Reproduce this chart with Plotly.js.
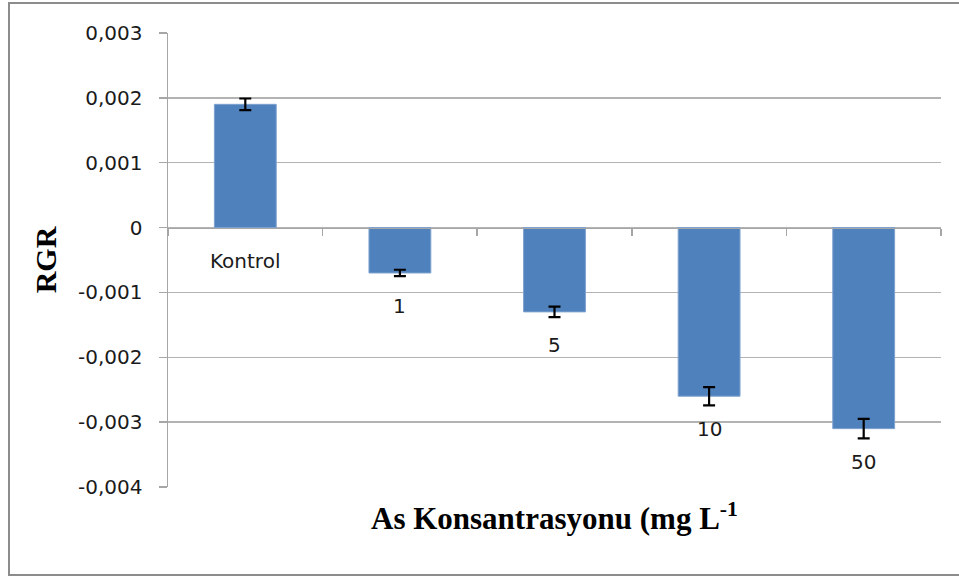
<!DOCTYPE html>
<html>
<head>
<meta charset="utf-8">
<script src="https://cdn.plot.ly/plotly-3.0.1.min.js"></script>
<style>
html,body{margin:0;padding:0;background:#fff;}
#wrap{position:relative;width:959px;height:581px;overflow:hidden;}
#chart{width:959px;height:581px;}
#frame{position:absolute;left:8px;top:2px;width:980px;height:574px;border:2px solid #8c8c8c;pointer-events:none;box-sizing:border-box;}
</style>
</head>
<body>
<div id="wrap"><div id="chart"></div><div id="frame"></div></div>
<script>
var categories = ["Kontrol", "1", "5", "10", "50"];
var rgrValues = [0.0019, -0.0007, -0.0013, -0.0026, -0.0031];
var rgrErrors = [0.00009, 0.00005, 0.00008, 0.00014, 0.00015];
var yTickVals = [0.003, 0.002, 0.001, 0, -0.001, -0.002, -0.003, -0.004];
var yTickText = ["0,003", "0,002", "0,001", "0", "-0,001", "-0,002", "-0,003", "-0,004"];

var yMin = -0.004, yMax = 0.003;
var tickFont = {family: "DejaVu Sans, Open Sans, sans-serif", size: 20, color: "#1a1a1a"};

var trace = {
  type: "bar",
  x: categories,
  y: rgrValues,
  marker: {color: "#4F81BD", line: {color: "#7EA2CF", width: 1}},
  error_y: {type: "data", array: rgrErrors, visible: true, color: "#000", thickness: 2.2, width: 6},
  hoverinfo: "skip"
};

var annotations = categories.map(function (c, i) {
  return {
    x: i, y: Math.min(rgrValues[i], 0), xref: "x", yref: "y",
    text: c, showarrow: false, yanchor: "middle", yshift: -33,
    font: tickFont
  };
});

var layout = {
  width: 959, height: 581,
  margin: {l: 168, r: 18, t: 33, b: 94, pad: 0},
  paper_bgcolor: "#fff", plot_bgcolor: "#fff",
  showlegend: false,
  bargap: 0.6,
  xaxis: {
    type: "category",
    range: [-0.5, categories.length - 0.5],
    autorange: false,
    anchor: "free",
    position: (0 - yMin) / (yMax - yMin),
    showline: true, linecolor: "#a6a6a6", linewidth: 1.5,
    ticks: "outside", tickson: "boundaries", ticklen: 7, tickcolor: "#a6a6a6", tickwidth: 1.5,
    showticklabels: false, showgrid: false, zeroline: false
  },
  yaxis: {
    range: [yMin, yMax],
    autorange: false,
    tickvals: yTickVals, ticktext: yTickText,
    tickfont: tickFont,
    ticklabelstandoff: 12,
    ticks: "outside", ticklen: 8, tickcolor: "#a6a6a6", tickwidth: 1.5,
    showline: true, linecolor: "#a6a6a6", linewidth: 1.5,
    showgrid: true, gridcolor: "#b3b3b3", gridwidth: 1.5,
    zeroline: false,
    title: {text: "<b>RGR</b>", font: {family: "Liberation Serif, Times New Roman, serif", size: 30, color: "#000"}, standoff: 12}
  },
  annotations: annotations.concat([{
    xref: "paper", yref: "paper", x: 0.5, y: 0, yanchor: "top", yshift: -8,
    text: "<b>As Konsantrasyonu (mg L<sup>-1</sup></b>", showarrow: false,
    font: {family: "Liberation Serif, Times New Roman, serif", size: 31, color: "#000"}
  }])
};

Plotly.newPlot("chart", [trace], layout, {displayModeBar: false, staticPlot: true});
</script>
</body>
</html>
